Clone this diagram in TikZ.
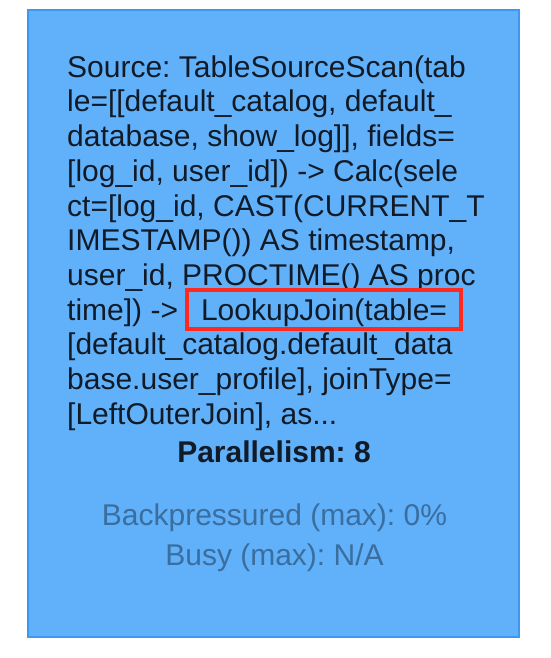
\documentclass[tikz,border=0pt]{standalone}
\usepackage{fontspec}
\setmainfont{Liberation Sans}
\usepackage{tikz}
\usetikzlibrary{positioning}
\frenchspacing

\definecolor{vertexfill}{HTML}{61B0FA}
\definecolor{vertexline}{HTML}{3C98F4}
\definecolor{labeltext}{HTML}{111B27}
\definecolor{metrictext}{HTML}{3A6E9E}
\definecolor{marker}{HTML}{FF2A1F}

\tikzset{
    vertexbox/.style={draw=vertexline, fill=vertexfill, line width=2pt, inner sep=0pt},
    opline/.style={anchor=base west, inner sep=0pt, text=labeltext, font=\fontsize{30}{34}\selectfont},
    parline/.style={anchor=base, inner sep=0pt, text=labeltext, font=\fontsize{30}{34}\selectfont\bfseries},
    metricline/.style={anchor=base, inner sep=0pt, text=metrictext, font=\fontsize{30}{34}\selectfont},
    markbox/.style={draw=marker, line width=3.6pt, anchor=base west, inner xsep=14pt, inner ysep=0pt,
        text height=30pt, text depth=9pt, text=labeltext, font=\fontsize{30}{34}\selectfont},
}

\begin{document}
\begin{tikzpicture}[x=1pt,y=-1pt]
            \useasboundingbox (0,0) rectangle (550,658);
            % Operator-Kasten
            \node[vertexbox, minimum width=491pt, minimum height=626pt] (vertex) at (273.75,323.5) {};

            % Beschreibung, Zeile fuer Zeile
            \node[opline] (l1) at (67,77.3) {Source: TableSourceScan(tab};
            \node[opline] (l2) at (67,112.0) {le=[[default\_catalog, default\_};
            \node[opline] (l3) at (67,146.7) {database, show\_log]], fields=};
            \node[opline] (l4) at (67,181.4) {[log\_id, user\_id]) -> Calc(sele};
            \node[opline] (l5) at (67,216.1) {ct=[log\_id, CAST(CURRENT\_T};
            \node[opline] (l6) at (67,250.8) {IMESTAMP()) AS timestamp,};
            \node[opline] (l7) at (67,285.5) {user\_id, PROCTIME() AS proc};
            \node[opline] (l8) at (67,320.2) {time]) ->};
            \node[markbox, xshift=7pt] (join) at (l8.base east) {LookupJoin(table=};
            \node[opline] (l9) at (67,354.9) {[default\_catalog.default\_data};
            \node[opline] (l10) at (67,389.6) {base.user\_profile], joinType=};
            \node[opline] (l11) at (67,424.3) {[LeftOuterJoin], as...};

            %Parallelitaet und Metriken:
            \node[parline] (par) at (274,462.7) {Parallelism: 8};

            \node[metricline] (bp) at (274.5,525) {Backpressured (max): 0\%};
            \node[metricline] (busy) at (274.5,565) {Busy (max): N/A};

        \end{tikzpicture}
\end{document}
